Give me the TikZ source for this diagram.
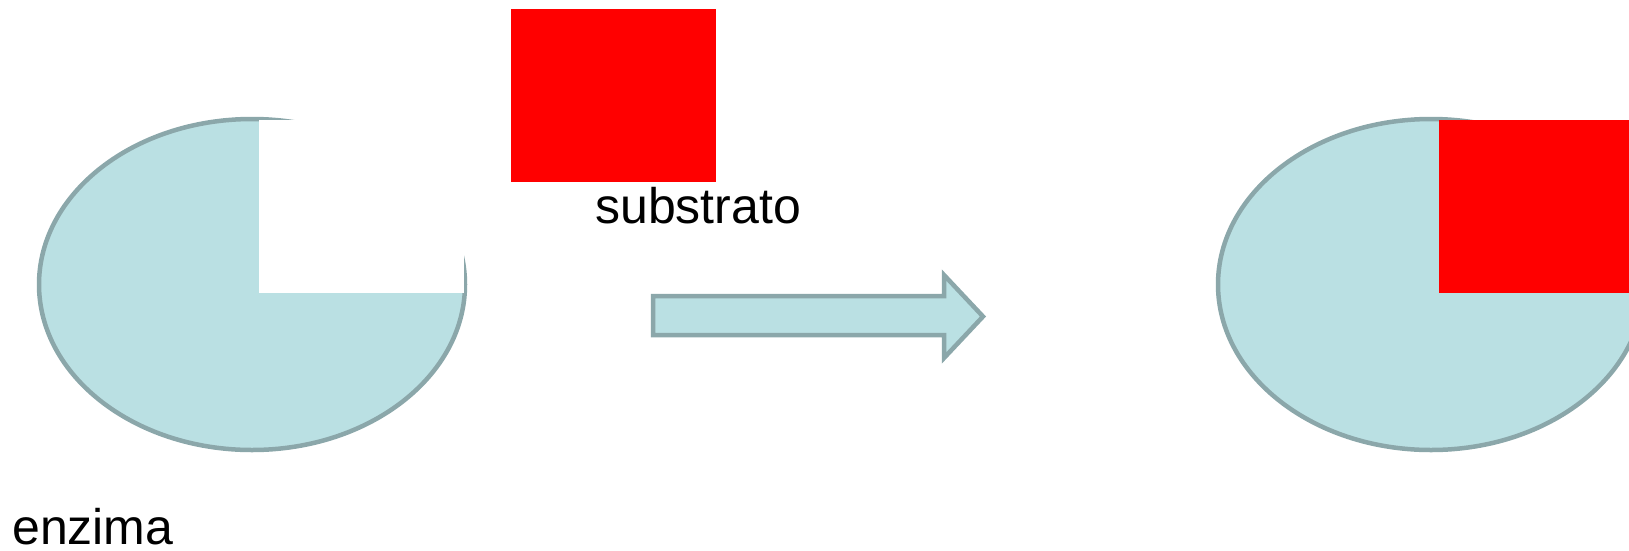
\documentclass[tikz,border=0pt]{standalone}
\usepackage{fontspec}
\setmainfont{Liberation Sans}
\definecolor{enzfill}{HTML}{BAE0E3}
\definecolor{enzline}{HTML}{8BA7AA}
\definecolor{subred}{HTML}{FF0000}
\begin{document}
\begin{tikzpicture}[x=1pt,y=-1pt,
  enzyme/.style={fill=enzfill,draw=enzline,line width=4.5pt},
  substrate/.style={fill=subred,draw=none},
  label/.style={font=\fontsize{50}{56}\selectfont,inner sep=0pt,anchor=base west}]
  \useasboundingbox (0,0) rectangle (1629,550);
  \clip (0,0) rectangle (1629,550);
  % free enzyme with its empty active site
  \path[enzyme] (252,284.5) ellipse [x radius=213,y radius=165.5];
  \fill[white] (259,120) rectangle (464,293);
  \coordinate (enz1) at (252,284.5);
  % substrate
  \path[substrate] (511,9) rectangle (716,182);
  \node[label] (sub) at (595,223) {substrato};
  \node[label] (enz) at (12,544) {enzima};
  % reaction arrow
  \path[enzyme,line width=4.5pt,line join=miter]
    (653,296) -- (944,296) -- (944,275) -- (983,316.5) -- (944,358) -- (944,335) -- (653,335) -- cycle;
  % enzyme-substrate complex
  \path[enzyme] (1431,284.5) ellipse [x radius=213,y radius=165.5];
  \path[substrate] (1439,120) rectangle (1640,293);
\end{tikzpicture}
\end{document}
